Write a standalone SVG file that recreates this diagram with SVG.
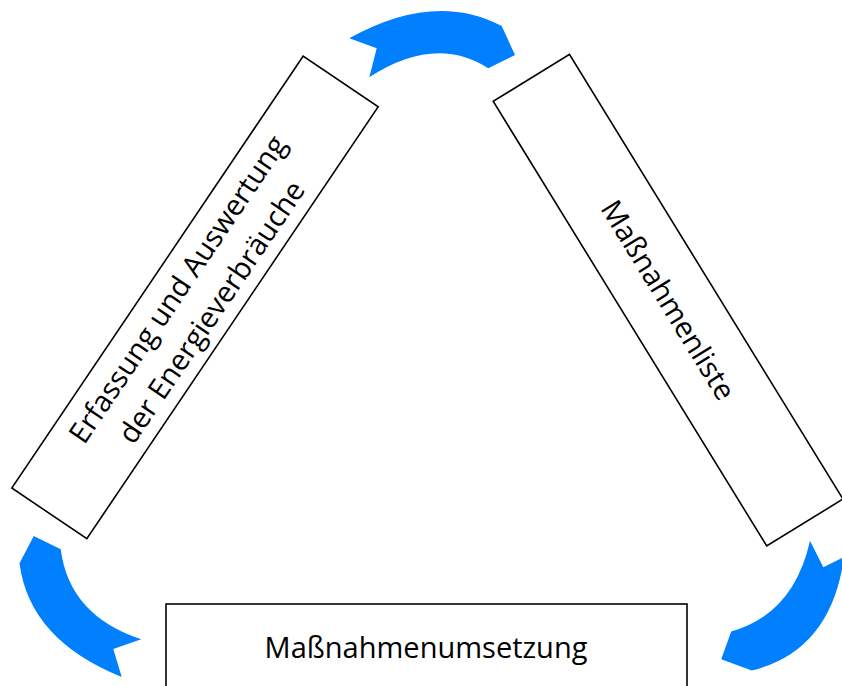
<svg xmlns="http://www.w3.org/2000/svg" width="842" height="686" viewBox="0 0 842 686">
  <style>
    .box { fill: #ffffff; stroke: #000000; stroke-width: 1.6; }
    .lbl { font-family: "Open Sans", "Noto Sans", "DejaVu Sans", sans-serif; font-size: 29px; fill: #000000; text-anchor: middle; }
    .arrow { fill: #0080FF; stroke: none; }
  </style>
  <rect x="0" y="0" width="842" height="686" fill="#ffffff"/>
  <g id="connectors">
    <path class="arrow" d="M 349.3 38.3 Q 434.5 -9.2 501.7 26 L 515 55 L 488.3 68.3 Q 435.2 34.2 369.3 77.3 L 376.7 48.3 Z"/>
    <path class="arrow" d="M 844 557 Q 831.2 651 751.7 670.5 L 721.2 659.3 L 731.2 631.5 Q 793.7 613.8 810 540.7 L 823.3 567.3 Z"/>
    <path class="arrow" d="M 121.7 677 L 113.3 649 L 141.2 639.3 Q 69.3 615.7 60.7 549.3 L 33.8 536 L 19.5 563.3 Q 29.5 640 121.7 677 Z"/>
  </g>
  <g id="node-erfassung" transform="translate(195 297.4) rotate(-56)">
    <rect class="box" x="-260.5" y="-45.25" width="521" height="90.5"/>
    <text class="lbl" x="-3" y="-9">Erfassung und Auswertung</text>
    <text class="lbl" x="-3" y="32">der Energieverbräuche</text>
  </g>
  <g id="node-massnahmenliste" transform="translate(668.1 300.2) rotate(58.4)">
    <rect class="box" x="-261" y="-44.75" width="522" height="89.5"/>
    <text class="lbl" x="0" y="10">Maßnahmenliste</text>
  </g>
  <g id="node-umsetzung">
    <rect class="box" x="166" y="604" width="521" height="90"/>
    <text class="lbl" x="426" y="658">Maßnahmenumsetzung</text>
  </g>
</svg>
